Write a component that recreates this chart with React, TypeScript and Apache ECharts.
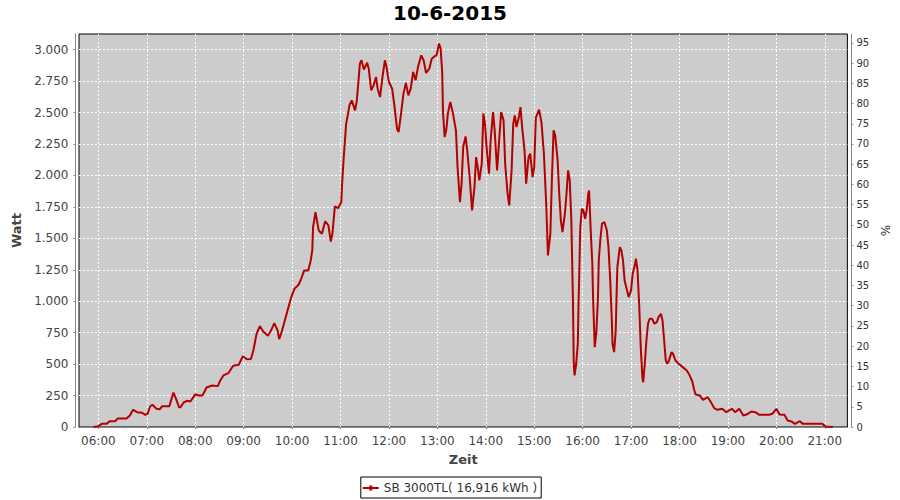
import React, { useEffect, useRef } from "react";
import * as echarts from "echarts";

const chartTitle = "10-6-2015";
const seriesName = "SB 3000TL( 16,916 kWh )";
const xAxisName = "Zeit";
const yAxisName = "Watt";
const y2AxisName = "%";

// [minutes since midnight, watt]
const morning = [
  [354, 0], [360, 6], [364, 25], [370, 25], [374, 46], [381, 46], [384, 68], [395, 68], [399, 92], [403, 137],
  [408, 118], [414, 114], [418, 97], [421, 105], [424, 163], [427, 177], [432, 145], [436, 141], [439, 165], [448, 165],
  [450, 211], [453, 274], [457, 211], [460, 155], [462, 160], [466, 197], [470, 208], [474, 203], [480, 259], [485, 251],
  [489, 251], [494, 314], [501, 330], [508, 325], [511, 370], [515, 410], [521, 428], [527, 487], [534, 495], [539, 563],
  [544, 539], [549, 540], [552, 608], [556, 741], [560, 802], [564, 762], [570, 725], [574, 768], [578, 826], [582, 768],
  [584, 699], [587, 754], [591, 847], [595, 940], [599, 1033], [603, 1100], [608, 1131], [611, 1173], [615, 1245], [620, 1245],
];
const midday = [
  [623, 1320], [625, 1404], [626, 1590], [629, 1709], [633, 1563], [637, 1537], [641, 1636], [645, 1603], [648, 1474], [650, 1540],
  [653, 1755], [657, 1740], [661, 1788], [662, 1935], [664, 2146], [667, 2412], [669, 2478], [671, 2558], [674, 2597], [678, 2518],
  [680, 2584], [682, 2730], [684, 2889], [686, 2916], [689, 2842], [693, 2897], [695, 2849], [698, 2677], [701, 2717], [704, 2783],
  [706, 2690], [709, 2624], [712, 2783], [715, 2916], [717, 2862], [720, 2743], [724, 2690], [727, 2544], [730, 2372], [732, 2345],
  [735, 2492], [738, 2651], [741, 2735], [744, 2637], [747, 2690], [750, 2823], [753, 2757], [756, 2862], [760, 2955], [763, 2916],
  [766, 2815], [770, 2849], [773, 2928], [777, 2950], [779, 2955], [782, 3049], [784, 3009], [786, 2823], [787, 2504], [789, 2306],
  [791, 2359], [793, 2492], [796, 2584], [799, 2504], [803, 2359],
];
const afternoon = [
  [805, 2067], [808, 1788], [810, 1935], [812, 2226], [815, 2311], [817, 2200], [820, 1987], [823, 1722], [826, 1908], [828, 2146],
  [830, 2067], [832, 1961], [835, 2094], [837, 2492], [839, 2412], [841, 2226], [844, 2014], [846, 2279], [849, 2504], [851, 2359],
  [854, 2041], [856, 2226], [859, 2504], [862, 2438], [864, 2094], [867, 1855], [869, 1762], [872, 2041], [874, 2412], [876, 2478],
  [878, 2385], [881, 2465], [883, 2544], [885, 2385], [888, 2200], [890, 1935], [893, 2146], [895, 2173], [898, 1987], [900, 2067],
  [902, 2460], [906, 2523], [909, 2420], [912, 2173], [915, 1749], [917, 1364], [920, 1537], [922, 1987], [924, 2359], [926, 2319],
  [929, 2120], [931, 1855], [933, 1643], [935, 1550], [938, 1696], [940, 1855], [942, 2041], [944, 1961], [946, 1643], [948, 1000],
  [949, 503], [950, 410], [952, 503], [954, 662], [955, 1006], [956, 1271], [957, 1577], [959, 1735], [961, 1722], [963, 1656],
  [965, 1722], [967, 1855], [968, 1881], [970, 1563], [972, 1298], [973, 1006], [975, 635], [977, 754], [979, 1033], [980, 1325],
  [982, 1497], [984, 1617], [987, 1630], [990, 1563], [992, 1430], [994, 1192], [996, 874], [997, 662], [999, 595], [1001, 768],
  [1002, 1033], [1003, 1271], [1006, 1430], [1008, 1404], [1010, 1325], [1012, 1165], [1015, 1086], [1017, 1033], [1020, 1086], [1022, 1219],
  [1025, 1298], [1026, 1338],
];
const evening = [
  [1028, 1245], [1030, 980], [1032, 635], [1034, 396], [1035, 356], [1037, 503], [1039, 688], [1041, 821], [1043, 861], [1046, 861],
  [1049, 821], [1052, 834], [1054, 874], [1057, 900], [1059, 847], [1061, 688], [1063, 529], [1065, 503], [1067, 529], [1070, 595],
  [1072, 582], [1075, 529], [1079, 503], [1084, 476], [1089, 449], [1092, 418], [1096, 360], [1098, 300], [1100, 259], [1105, 251],
  [1109, 216], [1115, 237], [1119, 197], [1123, 150], [1127, 137], [1133, 145], [1138, 118], [1145, 145], [1149, 118], [1154, 145],
  [1159, 92], [1163, 99], [1169, 123], [1174, 118], [1179, 97], [1191, 97], [1195, 105], [1200, 145], [1204, 99], [1210, 97],
  [1214, 52], [1219, 44], [1223, 25], [1229, 46], [1233, 25], [1257, 25], [1261, 4], [1270, 0],
];

const hourTicks = [360, 420, 480, 540, 600, 660, 720, 780, 840, 900, 960, 1020, 1080, 1140, 1200, 1260];
const wattTicks = [0, 250, 500, 750, 1000, 1250, 1500, 1750, 2000, 2250, 2500, 2750, 3000];
const percentTicks = [0, 5, 10, 15, 20, 25, 30, 35, 40, 45, 50, 55, 60, 65, 70, 75, 80, 85, 90, 95];

const FONT = "DejaVu Sans";
const LINE = "#b40000";

function fmtTime(v: number) {
  const h = Math.floor(v / 60);
  const m = Math.round(v - h * 60);
  return String(h).padStart(2, "0") + ":" + String(m).padStart(2, "0");
}
function fmtWatt(v: number) {
  if (v >= 1000) {
    const t = Math.floor(v / 1000);
    const r = Math.round(v - t * 1000);
    return t + "." + String(r).padStart(3, "0");
  }
  return String(v);
}

export default function App() {
  const ref = useRef<HTMLDivElement>(null);
  useEffect(() => {
    if (!ref.current) return;
    const chart = echarts.init(ref.current, undefined, { renderer: "svg" });
    const data = [...morning, ...midday, ...afternoon, ...evening];
    chart.setOption({
      animation: false,
      backgroundColor: "#ffffff",
      title: {
        text: chartTitle,
        left: "center",
        top: -2,
        textStyle: { fontFamily: FONT, fontSize: 20, fontWeight: "bold", color: "#000" },
      },
      legend: {
        data: [{ name: seriesName, icon: "path://M0,1.5h16v2h-16z M6.5,0h3v5h-3z" }],
        left: "center",
        top: 477,
        itemWidth: 16,
        itemHeight: 5,
        itemGap: 4,
        padding: [5, 4, 4, 2],
        borderColor: "#000",
        borderWidth: 1,
        borderRadius: 0,
        textStyle: { fontFamily: FONT, fontSize: 12, color: "#333", padding: [0, 0, 0, 0] },
      },
      grid: {
        show: true,
        left: 79,
        top: 34,
        right: 52,
        bottom: 73,
        backgroundColor: "#cccccc",
        borderColor: "#000",
        borderWidth: 1,
      },
      xAxis: {
        type: "value",
        min: 336,
        max: 1288,
        offset: 4,
        name: xAxisName,
        nameLocation: "middle",
        nameGap: 22,
        nameTextStyle: { fontFamily: FONT, fontSize: 13, fontWeight: "bold", color: "#444" },
        axisLine: { show: true, lineStyle: { color: "#888", width: 1 } },
        axisTick: { show: true, length: 2, customValues: hourTicks, lineStyle: { color: "#888" } },
        axisLabel: {
          customValues: hourTicks,
          formatter: (v: number) => fmtTime(v),
          fontFamily: FONT,
          fontSize: 12,
          color: "#444",
          margin: 4,
        },
        splitLine: { show: true, lineStyle: { color: "#ffffff", width: 1, type: [2, 2] } },
      },
      yAxis: [
        {
          type: "value",
          position: "left",
          min: 0,
          max: 3125,
          offset: 3.5,
          name: yAxisName,
          nameLocation: "middle",
          nameRotate: 90,
          nameGap: 48,
          nameTextStyle: { fontFamily: FONT, fontSize: 13, fontWeight: "bold", color: "#444" },
          axisLine: { show: true, lineStyle: { color: "#888", width: 1 } },
          axisTick: { show: true, length: 2, customValues: wattTicks, lineStyle: { color: "#888" } },
          axisLabel: {
            customValues: wattTicks,
            formatter: (v: number) => fmtWatt(v),
            fontFamily: FONT,
            fontSize: 12,
            color: "#444",
            margin: 7,
          },
          splitLine: { show: true, lineStyle: { color: "#ffffff", width: 1, type: [2, 2] } },
        },
        {
          type: "value",
          position: "right",
          min: 0,
          max: 97.2,
          offset: 4,
          name: y2AxisName,
          nameLocation: "middle",
          nameRotate: 90,
          nameGap: 23,
          nameTextStyle: { fontFamily: FONT, fontSize: 12, color: "#333" },
          axisLine: { show: true, lineStyle: { color: "#888", width: 1 } },
          axisTick: { show: true, length: 2, customValues: percentTicks, lineStyle: { color: "#888" } },
          axisLabel: {
            customValues: percentTicks,
            fontFamily: FONT,
            fontSize: 10,
            color: "#333",
            margin: 5,
          },
          splitLine: { show: false },
        },
      ],
      series: [
        {
          name: seriesName,
          type: "line",
          yAxisIndex: 0,
          data,
          showSymbol: false,
          symbol: "none",
          lineStyle: { color: LINE, width: 2 },
          itemStyle: { color: LINE },
          silent: true,
        },
      ],
    });
    return () => chart.dispose();
  }, []);
  return (
    <div
      ref={ref}
      style={{ position: "fixed", left: 0, top: 0, width: 900, height: 500, background: "#fff" }}
    />
  );
}
